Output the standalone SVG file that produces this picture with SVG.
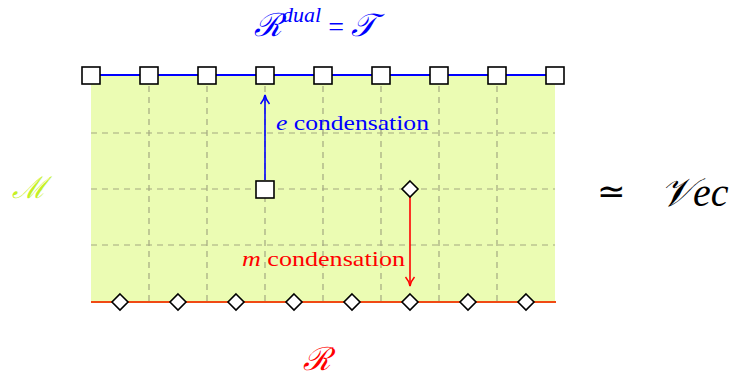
<svg xmlns="http://www.w3.org/2000/svg" width="745" height="378" viewBox="0 0 745 378">
<defs>
<style>
.grid{stroke:#a3a880;stroke-width:1.2;stroke-dasharray:6,5;fill:none}
.sq{fill:#fff;stroke:#000;stroke-width:1.6}
.dm{fill:#fff;stroke:#000;stroke-width:1.6}
</style>
<marker id="ab" viewBox="0 0 12 12" refX="11" refY="6" markerWidth="12" markerHeight="12" markerUnits="userSpaceOnUse" orient="auto"><path d="M2,1.5 Q6,5 11,6 Q6,7 2,10.5" fill="none" stroke="#0000ff" stroke-width="1.5"/></marker>
<marker id="ar" viewBox="0 0 12 12" refX="11" refY="6" markerWidth="12" markerHeight="12" markerUnits="userSpaceOnUse" orient="auto"><path d="M2,1.5 Q6,5 11,6 Q6,7 2,10.5" fill="none" stroke="#ff0000" stroke-width="1.5"/></marker>
</defs>
<g id="bulk">
<rect x="91" y="75" width="464" height="227" fill="#ebfcb3"/>
<path class="grid" d="M149,75V302M207,75V302M265,75V302M323,75V302M381,75V302M439,75V302M497,75V302M91,133H555M91,189H555M91,245H555"/>
</g>
<g id="edges">
<line x1="91" y1="75" x2="556" y2="75" stroke="#0000ff" stroke-width="2"/>
<line x1="91" y1="302" x2="556" y2="302" stroke="#f04a14" stroke-width="2.2"/>
<line x1="265" y1="180" x2="265" y2="95" stroke="#0000ff" stroke-width="1.6" marker-end="url(#ab)"/>
<line x1="410" y1="197" x2="410" y2="286" stroke="#ff0000" stroke-width="1.6" marker-end="url(#ar)"/>
</g>
<g id="top-boundary">
<rect class="sq" x="82" y="67" width="18" height="17"/>
<rect class="sq" x="140" y="67" width="18" height="17"/>
<rect class="sq" x="198" y="67" width="18" height="17"/>
<rect class="sq" x="256" y="67" width="18" height="17"/>
<rect class="sq" x="314" y="67" width="18" height="17"/>
<rect class="sq" x="372" y="67" width="18" height="17"/>
<rect class="sq" x="430" y="67" width="18" height="17"/>
<rect class="sq" x="488" y="67" width="18" height="17"/>
<rect class="sq" x="546" y="67" width="18" height="17"/>
</g>
<g id="bottom-boundary">
<path class="dm" d="M120,294L128,302L120,310L112,302Z"/>
<path class="dm" d="M178,294L186,302L178,310L170,302Z"/>
<path class="dm" d="M236,294L244,302L236,310L228,302Z"/>
<path class="dm" d="M294,294L302,302L294,310L286,302Z"/>
<path class="dm" d="M352,294L360,302L352,310L344,302Z"/>
<path class="dm" d="M410,294L418,302L410,310L402,302Z"/>
<path class="dm" d="M468,294L476,302L468,310L460,302Z"/>
<path class="dm" d="M526,294L534,302L526,310L518,302Z"/>
</g>
<g id="e-particle"><rect class="sq" x="256" y="181" width="18" height="17"/></g>
<g id="m-particle"><path class="dm" d="M410,181L418,189L410,197L402,189Z"/></g>
<g id="labels">
<text x="276" y="130" fill="#0000ff" font-family="Liberation Serif, serif" font-size="22" textLength="153" lengthAdjust="spacingAndGlyphs"><tspan font-style="italic">e</tspan> condensation</text>
<text x="242" y="266" fill="#ff0000" font-family="Liberation Serif, serif" font-size="22" textLength="163" lengthAdjust="spacingAndGlyphs"><tspan font-style="italic">m</tspan> condensation</text>
<text x="254" y="36" fill="#0000ff" font-family="DejaVu Serif, serif" font-style="italic" font-size="32">ℛ<tspan font-size="22" dy="-14" font-family="Liberation Serif, serif">dual</tspan><tspan dy="14" font-style="normal" font-size="28" font-family="Liberation Serif, serif"> = </tspan>𝒯</text>
<text x="12" y="198" fill="#c4f024" font-family="DejaVu Serif, serif" font-style="italic" font-size="30">ℳ</text>
<text x="303" y="370" fill="#ff0000" font-family="DejaVu Serif, serif" font-style="italic" font-size="32">ℛ</text>
<text x="597" y="203" fill="#000" font-family="DejaVu Sans, sans-serif" font-size="34">≃</text>
<text x="660" y="206" fill="#000" font-family="DejaVu Serif, serif" font-style="italic" font-size="40">𝒱<tspan font-family="Liberation Serif, serif">ec</tspan></text>
</g>
</svg>
